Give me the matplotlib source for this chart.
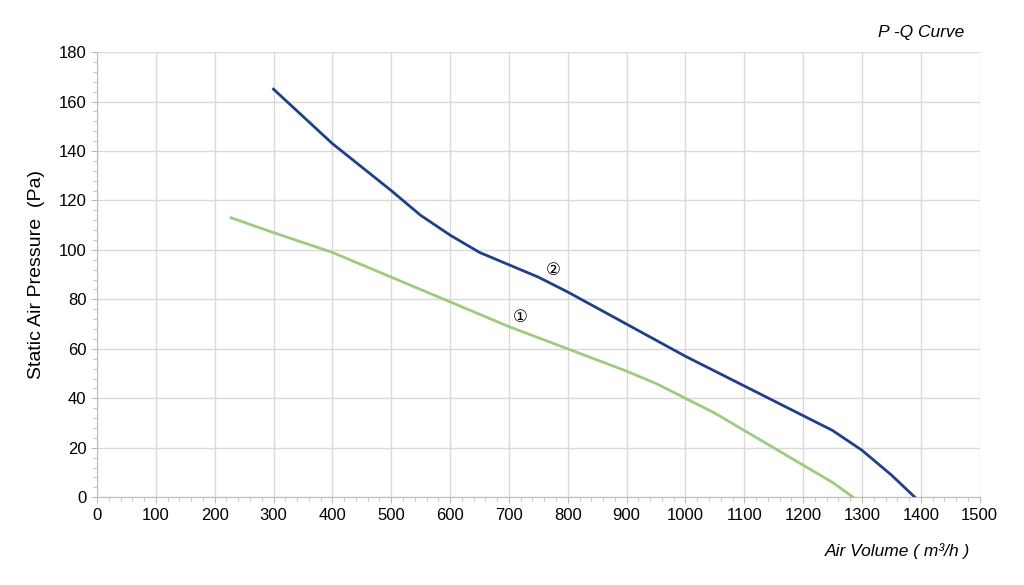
import matplotlib
matplotlib.use("Agg")
import matplotlib.pyplot as plt
from matplotlib.ticker import MultipleLocator

plt.rcParams['font.family'] = ['Liberation Sans', 'DejaVu Sans']

q2 = [300, 350, 400, 450, 500, 550, 600, 650, 700, 750, 800, 900, 1000, 1100, 1200, 1250, 1300, 1350, 1390]
p2 = [165, 154, 143, 133.5, 124, 114, 106, 99, 94, 89, 83, 70, 57, 45, 33, 27, 19, 9, 0]
q1 = [228, 300, 400, 500, 600, 700, 800, 900, 950, 1000, 1050, 1100, 1150, 1200, 1250, 1285]
p1 = [113, 107, 99, 89, 79, 69, 60, 51, 46, 40, 34, 27, 20, 13, 6, 0]

fig = plt.figure(figsize=(10.24, 5.85), dpi=100)
ax = fig.add_axes([0.0947, 0.150, 0.862, 0.761])
ax.plot(q1, p1, color="#9dcb7f", lw=2)
ax.plot(q2, p2, color="#1f3f88", lw=2)
ax.set_xlim(0, 1500)
ax.set_ylim(0, 180)
ax.xaxis.set_major_locator(MultipleLocator(100))
ax.xaxis.set_minor_locator(MultipleLocator(20))
ax.yaxis.set_major_locator(MultipleLocator(20))
ax.yaxis.set_minor_locator(MultipleLocator(4))
ax.grid(True, which="major", color="#d9d9d9", lw=1)
for s in ["top", "right"]:
    ax.spines[s].set_visible(False)
for s in ["left", "bottom"]:
    ax.spines[s].set_color("#bbbbbb")
ax.tick_params(which="both", color="#bbbbbb", labelsize=12)
ax.tick_params(which="major", length=4)
ax.tick_params(which="minor", length=3)
ax.set_ylabel("Static Air Pressure  (Pa)", fontsize=14, labelpad=10)
fig.text(0.942, 0.937, "P -Q Curve", fontsize=12.5, style="italic", ha="right")
fig.text(0.947, 0.05, "Air Volume ( m³/h )", fontsize=12.5, style="italic", ha="right")
ax.text(775, 92, "②", fontsize=12, ha="center", va="center", family=['DejaVu Sans'])
ax.text(720, 73, "①", fontsize=12, ha="center", va="center", family=['DejaVu Sans'])
fig.savefig("out.png", dpi=100)
